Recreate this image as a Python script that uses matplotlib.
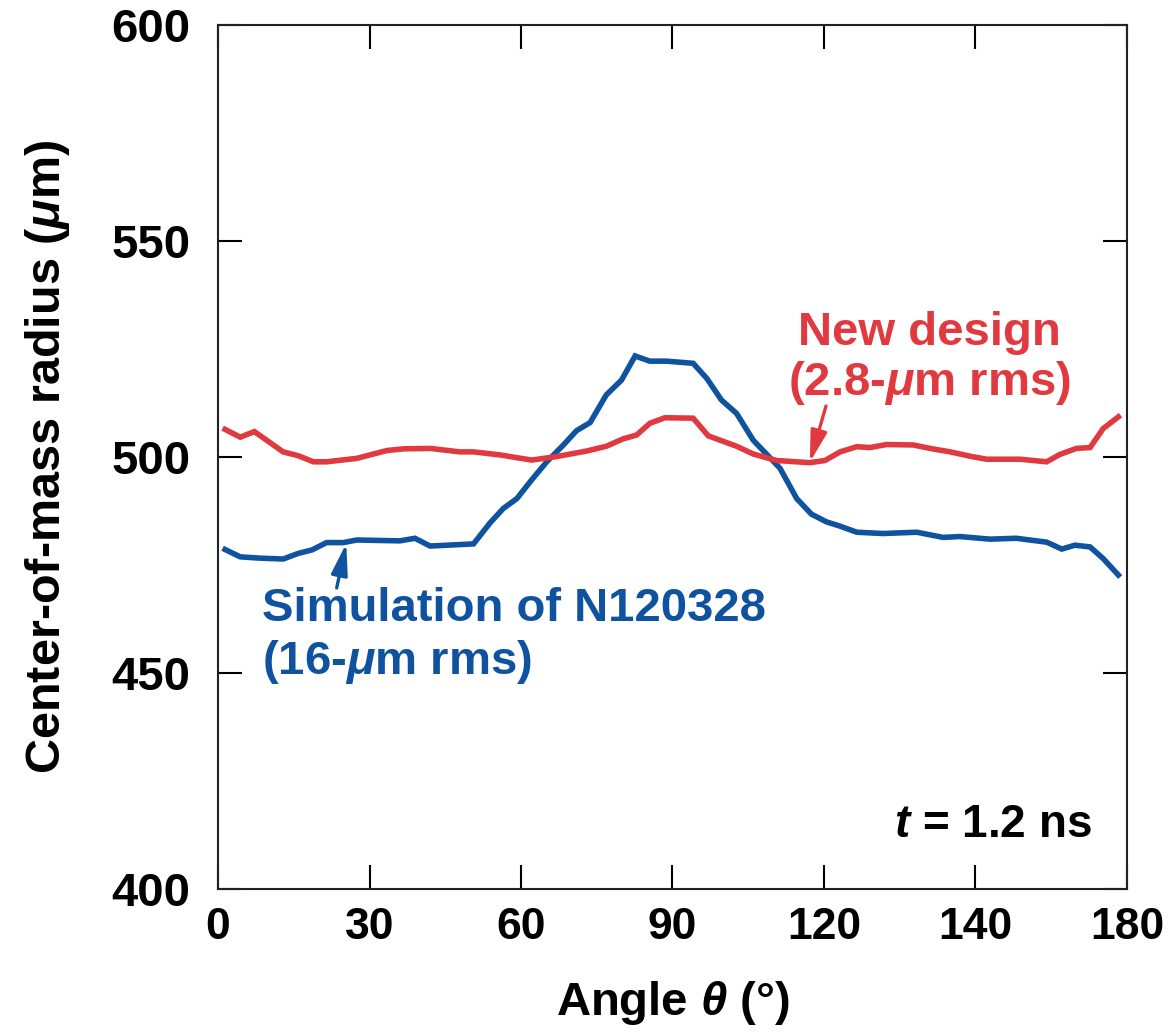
import matplotlib
matplotlib.use("Agg")
import matplotlib.pyplot as plt

plt.rcParams["font.family"] = ["Liberation Sans", "DejaVu Sans"]
plt.rcParams["font.weight"] = "bold"
plt.rcParams["mathtext.fontset"] = "custom"
plt.rcParams["mathtext.rm"] = "Liberation Sans:bold"
plt.rcParams["mathtext.it"] = "Liberation Sans:italic:bold"
plt.rcParams["mathtext.bf"] = "Liberation Sans:bold"

# new design (2.8-um rms)
new_theta = [1.4, 4.4, 7.2, 12.9, 15.9, 18.9, 21.5, 27.5, 33.4, 36.7, 42.0, 47.9,
             50.6, 55.8, 62.1, 67.0, 73.0, 76.9, 80.2, 82.9, 85.5, 88.5, 94.1,
             97.1, 102.7, 106.0, 110.6, 117.2, 120.2, 123.2, 126.5, 129.1, 132.4,
             137.7, 141.0, 145.0, 148.9, 152.2, 158.8, 164.1, 166.7, 170.0, 172.7,
             175.3, 178.3]
new_r = [506.4, 504.6, 505.9, 501.2, 500.3, 498.9, 498.9, 499.7, 501.5, 501.9, 502.0, 501.2,
         501.2, 500.5, 499.3, 500.1, 501.4, 502.5, 504.2, 505.1, 507.8, 509.1, 509.0,
         504.9, 502.5, 500.7, 499.2, 498.7, 499.2, 501.2, 502.4, 502.2, 502.9,
         502.8, 502.0, 501.2, 500.2, 499.5, 499.5, 498.9, 500.6, 502.0, 502.2,
         506.6, 509.3]

# simulation of N120328 (16-um rms)
sim_theta = [1.4, 4.4, 8.3, 12.9, 15.9, 18.6, 21.5, 24.8, 27.5, 36.0, 39.0, 42.0,
             50.6, 53.9, 56.5, 59.2, 62.1, 65.1, 68.4, 71.0, 73.7, 76.9, 79.9,
             82.6, 85.5, 88.8, 94.1, 96.8, 99.7, 102.7, 106.0, 111.3, 114.6, 117.5,
             120.5, 123.2, 126.5, 131.7, 138.4, 143.6, 146.9, 152.9, 158.1, 164.1,
             167.1, 169.7, 172.7, 175.3, 178.3]
sim_r = [478.6, 476.9, 476.6, 476.4, 477.7, 478.5, 480.2, 480.2, 480.8, 480.6, 481.2, 479.4,
         479.9, 484.8, 488.1, 490.4, 494.7, 498.9, 502.8, 506.1, 508.0, 514.4, 517.8,
         523.4, 522.2, 522.2, 521.7, 518.2, 513.2, 510.1, 503.9, 497.4, 490.4, 486.8,
         485.0, 484.0, 482.6, 482.3, 482.6, 481.4, 481.6, 481.0, 481.2, 480.3,
         478.7, 479.6, 479.2, 476.5, 472.7]

xticks = [0, 30, 60, 90, 120, 150, 180]
xtick_labels = ["0", "30", "60", "90", "120", "140", "180"]
yticks = [400, 450, 500, 550, 600]

red = "#e03a40"
blue = "#0f52a0"

fig = plt.figure(figsize=(11.69, 10.35), dpi=100)
ax = fig.add_axes([0.1865, 0.141, 0.7775, 0.8348])

ax.plot(sim_theta, sim_r, color=blue, lw=4, solid_joinstyle="miter")
ax.plot(new_theta, new_r, color=red, lw=4, solid_joinstyle="miter")

ax.set_xlim(0, 180)
ax.set_ylim(400, 600)
ax.set_xticks(xticks)
ax.set_xticklabels(xtick_labels)
ax.set_yticks(yticks)
ax.tick_params(direction="in", length=17, width=1.5, top=True, right=True)
ax.tick_params(axis="x", labelsize=32, pad=13)
ax.tick_params(axis="y", labelsize=34, pad=20)
for s in ax.spines.values():
    s.set_linewidth(1.5)
    s.set_color("#222222")

ax.set_xlabel(r"Angle $\theta$ (°)", fontsize=34, fontweight="bold", labelpad=22)
ax.set_ylabel(r"Center-of-mass radius ($\mu$m)", fontsize=35, fontweight="bold", labelpad=28)

arrow_style = "-|>,head_length=0.95,head_width=0.25"

ax.text(140.8, 522.7, "New design\n(2.8-$\\mu$m rms)", color=red, fontsize=34,
        fontweight="bold", ha="center", va="center", multialignment="center",
        linespacing=1.12)
ax.annotate("", xy=(117.2, 498.8), xytext=(120.4, 511.8),
            arrowprops=dict(arrowstyle=arrow_style, color=red, lw=2.4,
                            mutation_scale=20, shrinkA=0, shrinkB=0))

ax.text(8.7, 458.5, "Simulation of N120328\n(16-$\\mu$m rms)", color=blue, fontsize=34,
        fontweight="bold", ha="left", va="center", multialignment="left",
        linespacing=1.18)
ax.annotate("", xy=(25.4, 480.0), xytext=(23.5, 469.7),
            arrowprops=dict(arrowstyle=arrow_style, color=blue, lw=2.4,
                            mutation_scale=20, shrinkA=0, shrinkB=0))

ax.text(173, 414.8, r"$t$ = 1.2 ns", fontsize=33, fontweight="bold",
        ha="right", va="center")

fig.savefig("out.png", dpi=100)
